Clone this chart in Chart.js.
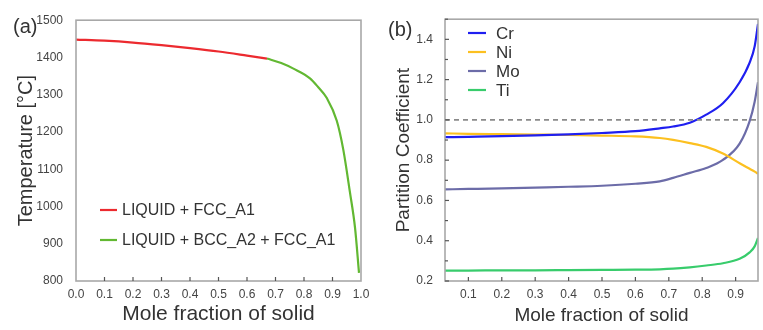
<!DOCTYPE html>
<html>
<head>
<meta charset="utf-8">
<script src="https://cdn.jsdelivr.net/npm/chart.js@4/dist/chart.umd.min.js"></script>
<style>
  html, body { margin:0; padding:0; background:#fff; }
  #wrap { position:relative; width:763px; height:330px; overflow:hidden; }
  canvas { position:absolute; top:0; }
  .tag { position:absolute; font-family:"Liberation Sans", Arial, sans-serif; font-size:20px; color:#333; line-height:1; }
</style>
</head>
<body>
<div id="wrap">
  <canvas id="ca" width="380" height="330" style="left:0px"></canvas>
  <canvas id="cb" width="383" height="330" style="left:380px"></canvas>
  <div class="tag" style="left:13px; top:16px;">(a)</div>
  <div class="tag" style="left:388px; top:19px;">(b)</div>
</div>
<script>
// ---------- Panel (a) data ----------
const fsLiqFcc  = [0, 0.1, 0.2, 0.3, 0.4, 0.5, 0.6, 0.67];
const tLiqFcc   = [1448, 1445, 1440, 1433, 1425, 1416, 1405, 1397];
const fsLiqBcc  = [0.67, 0.72, 0.763, 0.821, 0.85, 0.88, 0.915, 0.938, 0.961, 0.979, 0.993];
const tLiqBcc   = [1397, 1385, 1370, 1344, 1320, 1291, 1230, 1152, 1039, 943, 822];
const labelsA   = ["LIQUID + FCC_A1", "LIQUID + BCC_A2 + FCC_A1"];

// ---------- Panel (b) data ----------
const fsB  = [0.03, 0.1, 0.2, 0.3, 0.4, 0.5, 0.6, 0.673, 0.713, 0.763, 0.812, 0.862, 0.912, 0.942, 0.957, 0.967];
const kCr  = [0.914, 0.916, 0.919, 0.923, 0.928, 0.935, 0.944, 0.958, 0.967, 0.986, 1.026, 1.083, 1.187, 1.284, 1.365, 1.477];
const kNi  = [0.933, 0.931, 0.929, 0.927, 0.925, 0.922, 0.918, 0.910, 0.901, 0.885, 0.866, 0.833, 0.785, 0.757, 0.743, 0.733];
const kMo  = [0.655, 0.657, 0.660, 0.664, 0.668, 0.673, 0.683, 0.695, 0.712, 0.737, 0.761, 0.801, 0.882, 0.994, 1.090, 1.187];
const kTi  = [0.252, 0.252, 0.253, 0.253, 0.254, 0.255, 0.256, 0.258, 0.261, 0.268, 0.277, 0.288, 0.310, 0.342, 0.372, 0.414];
const elements = ["Cr", "Ni", "Mo", "Ti"];
const refValue = 1.0;

const FONT = '"Liberation Sans", Arial, sans-serif';
const TXT = '#333333';
const pts = (xs, ys) => xs.map((x, i) => ({x, y: ys[i]}));

const decoPlugin = {
  id: 'deco',
  afterDatasetsDraw(chart, args, o) {
    const {ctx, chartArea: {left, right, top, bottom}, scales: {x, y}} = chart;
    ctx.save();
    if (o.ref !== undefined) {
      const py = y.getPixelForValue(o.ref);
      ctx.strokeStyle = '#8a8a8a'; ctx.lineWidth = 1.6; ctx.setLineDash([5, 4]);
      ctx.beginPath(); ctx.moveTo(left, py); ctx.lineTo(right, py); ctx.stroke();
      ctx.setLineDash([]);
    }
    ctx.strokeStyle = '#a8a8a8'; ctx.lineWidth = 1.6;
    ctx.strokeRect(left, top, right - left, bottom - top);
    ctx.strokeStyle = '#555'; ctx.lineWidth = 1.2;
    x.ticks.forEach(t => {
      const px = x.getPixelForValue(t.value);
      if (px <= left + 1 || px >= right - 1) return;
      ctx.beginPath(); ctx.moveTo(px, bottom); ctx.lineTo(px, bottom - 4); ctx.stroke();
    });
    if (o.yTicks) {
      y.ticks.forEach(t => {
        const py = y.getPixelForValue(t.value);
        ctx.beginPath(); ctx.moveTo(left, py); ctx.lineTo(left + o.yTicks, py); ctx.stroke();
      });
      if (o.yMinor) {
        for (let v = y.min + o.yMinor; v < y.max; v += 2 * o.yMinor) {
          const py = y.getPixelForValue(v);
          ctx.beginPath(); ctx.moveTo(left, py); ctx.lineTo(left + 3, py); ctx.stroke();
        }
      }
    }
    // legend
    if (o.legend) {
      const L = o.legend;
      ctx.font = L.size + 'px ' + FONT;
      ctx.textBaseline = 'middle'; ctx.textAlign = 'left';
      chart.data.datasets.forEach((d, i) => {
        const yy = L.y + i * L.dy;
        ctx.strokeStyle = d.borderColor; ctx.lineWidth = 2.2;
        ctx.beginPath(); ctx.moveTo(L.x, yy); ctx.lineTo(L.x + L.len, yy); ctx.stroke();
        ctx.fillStyle = TXT;
        ctx.fillText(d.label, L.tx, yy + 1);
      });
    }
    ctx.restore();
  }
};

function lineDs(label, data, color) {
  return { label, data, borderColor: color, backgroundColor: color, borderWidth: 2.2,
           pointRadius: 0, cubicInterpolationMode: 'monotone', fill: false };
}
const noGrid = { display: false, drawTicks: false, tickLength: 0 };

// ---------- Chart (a) ----------
new Chart(document.getElementById('ca'), {
  type: 'line',
  data: { datasets: [
    lineDs(labelsA[0], pts(fsLiqFcc, tLiqFcc), '#ec2a2f'),
    lineDs(labelsA[1], pts(fsLiqBcc, tLiqBcc), '#62b832')
  ]},
  options: {
    responsive: false, animation: false, devicePixelRatio: 1,
    layout: { padding: { left: 0, top: 13, right: 19, bottom: 0 } },
    plugins: { legend: { display: false }, tooltip: { enabled: false },
      deco: { legend: { x: 100, len: 17, tx: 122, y: 210, dy: 30, size: 16 } } },
    scales: {
      x: { type: 'linear', min: 0, max: 1,
        afterFit: s => { s.height = 49; },
        grid: noGrid, border: { display: false },
        ticks: { stepSize: 0.1, padding: 6, color: '#444', font: { family: FONT, size: 12 },
                 maxRotation: 0, autoSkip: false, callback: v => Number(v).toFixed(1) },
        title: { display: true, text: 'Mole fraction of solid', color: TXT,
                 font: { family: FONT, size: 21 }, padding: { top: 0, bottom: 3 } } },
      y: { type: 'linear', min: 800, max: 1500,
        afterFit: s => { s.width = 76; },
        grid: noGrid, border: { display: false },
        ticks: { stepSize: 100, padding: 13, color: '#444', font: { family: FONT, size: 12 },
                 callback: v => String(Math.round(v)) },
        title: { display: true, text: 'Temperature [°C]', color: TXT,
                 font: { family: FONT, size: 20 }, padding: { top: 14, bottom: 0 } } }
    }
  },
  plugins: [decoPlugin]
});

// ---------- Chart (b) ----------
new Chart(document.getElementById('cb'), {
  type: 'line',
  data: { datasets: [
    lineDs(elements[0], pts(fsB, kCr), '#1f1ff0'),
    lineDs(elements[1], pts(fsB, kNi), '#fcc020'),
    lineDs(elements[2], pts(fsB, kMo), '#6c6ca8'),
    lineDs(elements[3], pts(fsB, kTi), '#38cc6c')
  ]},
  options: {
    responsive: false, animation: false, devicePixelRatio: 1,
    layout: { padding: { left: 0, top: 12, right: 5, bottom: 0 } },
    plugins: { legend: { display: false }, tooltip: { enabled: false },
      deco: { ref: refValue, yTicks: 4, yMinor: 0.1,
              legend: { x: 88, len: 18, tx: 116, y: 33, dy: 19, size: 17 } } },
    scales: {
      x: { type: 'linear', min: 0.03, max: 0.967,
        afterFit: s => { s.height = 49; },
        grid: noGrid, border: { display: false },
        ticks: { stepSize: 0.1, includeBounds: false, padding: 6, color: '#444',
                 font: { family: FONT, size: 12 }, maxRotation: 0, autoSkip: false,
                 callback: v => Number(v).toFixed(1) },
        title: { display: true, text: 'Mole fraction of solid', color: TXT,
                 font: { family: FONT, size: 19 }, padding: { top: 0, bottom: 3 } } },
      y: { type: 'linear', min: 0.2, max: 1.5,
        afterFit: s => { s.width = 65; },
        grid: noGrid, border: { display: false },
        ticks: { stepSize: 0.2, includeBounds: false, padding: 12, color: '#444',
                 font: { family: FONT, size: 12 }, callback: v => Number(v).toFixed(1) },
        title: { display: true, text: 'Partition Coefficient', color: TXT,
                 font: { family: FONT, size: 19 }, padding: { top: 12, bottom: 0 } } }
    }
  },
  plugins: [decoPlugin]
});
</script>
</body>
</html>
